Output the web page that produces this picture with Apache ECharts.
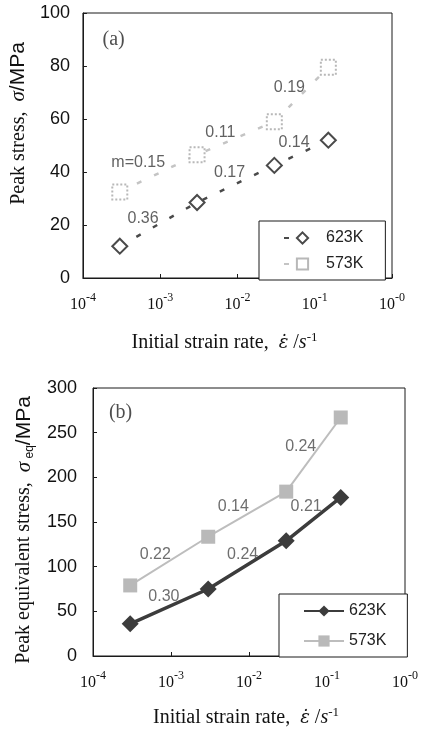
<!DOCTYPE html>
<html style="height: 100%">
<head>
<meta charset="utf-8">
</head>
<body style="height: 100%; margin: 0; background: #fff">
<div id="container" style="width: 421px; height: 732px"></div>
<script type="text/javascript" src="https://cdn.jsdelivr.net/npm/echarts@6/dist/echarts.min.js"></script>
<script type="text/javascript">
// initial strain rate (s^-1), same for every series
var rates = [3e-4, 3e-3, 3e-2, 1.5e-1];

// (a) peak stress, MPa
var peak623 = [12, 28.5, 42.5, 52];
var peak573 = [32.5, 46.5, 59, 79.5];

// (b) peak equivalent stress, MPa
var eq623 = [36, 75, 129, 177.5];
var eq573 = [79, 133.5, 184, 267];

// strain-rate sensitivity labels and where they sit (data coords)
var mTextA = ['m=0.15', '0.11', '0.19', '0.36', '0.17', '0.14'];
var mRateA = [5.2e-4, 6.0e-3, 4.7e-2, 6.0e-4, 7.9e-3, 5.4e-2];
var mStressA = [43.4, 55, 72, 22.6, 39.6, 51];

var mTextB = ['0.24', '0.14', '0.21', '0.22', '0.24', '0.30'];
var mRateB = [4.6e-2, 6.3e-3, 5.4e-2, 6.3e-4, 8.3e-3, 8.1e-4];
var mStressB = [234, 167, 167, 114, 114, 66];

var SERIF = 'Liberation Serif';
var SANS = 'Liberation Sans';

function pairs(xs, ys) {
    return xs.map(function (x, i) { return [x, ys[i]]; });
}
function notes(texts, xs, ys) {
    return texts.map(function (t, i) { return { name: t, value: [xs[i], ys[i]] }; });
}

var dom = document.getElementById('container');
var myChart = echarts.init(dom, null, { renderer: 'canvas' });

var xAxisBase = function (grid, nameGap, namePad) {
    return {
        type: 'log',
        logBase: 10,
        gridIndex: grid,
        min: 1e-4,
        max: 1,
        axisLine: { show: true, lineStyle: { color: '#1a1a1a', width: 1 } },
        axisTick: { show: true, inside: true, length: 4, lineStyle: { color: '#1a1a1a' } },
        splitLine: { show: false },
        axisLabel: {
            margin: 14,
            color: '#111',
            formatter: function (v) {
                var e = Math.round(Math.log(v) / Math.LN10);
                return '{b|10}{s|' + (e === 0 ? '-0' : e) + '}';
            },
            rich: {
                b: { fontFamily: SERIF, fontSize: 16, lineHeight: 21, verticalAlign: 'bottom', color: '#111' },
                s: { fontFamily: SERIF, fontSize: 12, lineHeight: 12, verticalAlign: 'top', color: '#111' }
            }
        },
        name: '{t|Initial strain rate,  }{e|\u03b5\u0307}{t| /}{i|s}{p|-1}',
        nameLocation: 'middle',
        nameGap: nameGap,
        nameTextStyle: {
            padding: namePad,
            rich: {
                t: { fontFamily: SERIF, fontSize: 20, lineHeight: 24, color: '#111' },
                e: { fontFamily: 'DejaVu Serif', fontSize: 18, fontStyle: 'italic', lineHeight: 24, color: '#111' },
                i: { fontFamily: SERIF, fontSize: 20, fontStyle: 'italic', lineHeight: 24, color: '#111' },
                p: { fontFamily: SERIF, fontSize: 13, lineHeight: 13, verticalAlign: 'top', color: '#111' }
            }
        }
    };
};

var yAxisBase = function (grid, max, interval, name, nameGap, namePad, margin) {
    return {
        type: 'value',
        gridIndex: grid,
        min: 0,
        max: max,
        interval: interval,
        axisLine: { show: true, lineStyle: { color: '#1a1a1a', width: 1 } },
        axisTick: { show: true, inside: true, length: 4, lineStyle: { color: '#1a1a1a' } },
        splitLine: { show: false },
        axisLabel: { margin: margin, fontFamily: SANS, fontSize: 18, color: '#111' },
        name: name,
        nameLocation: 'middle',
        nameGap: nameGap,
        nameRotate: 90,
        nameTextStyle: {
            padding: namePad,
            rich: {
                t: { fontFamily: SERIF, fontSize: 20, lineHeight: 24, color: '#111' },
                g: { fontFamily: SERIF, fontSize: 21, fontStyle: 'italic', lineHeight: 24, color: '#111' },
                q: { fontFamily: SANS, fontSize: 12, lineHeight: 12, verticalAlign: 'bottom', color: '#111' },
                u: { fontFamily: SANS, fontSize: 21, lineHeight: 24, color: '#111' }
            }
        }
    };
};

var noteSeries = function (grid, data, color, font, size) {
    return {
        type: 'scatter',
        xAxisIndex: grid,
        yAxisIndex: grid,
        data: data,
        symbolSize: 0,
        silent: true,
        z: 5,
        label: {
            show: true,
            position: 'inside',
            formatter: '{b}',
            fontFamily: font,
            fontSize: size,
            color: color
        }
    };
};

option = {
    backgroundColor: '#fff',
    animation: false,
    grid: [
        { left: 79, right: 29, top: 13, height: 265, show: true, borderColor: '#1a1a1a', borderWidth: 1, backgroundColor: 'transparent' },
        { left: 93, right: 14, top: 388, height: 268, show: true, borderColor: '#1a1a1a', borderWidth: 1, backgroundColor: 'transparent' }
    ],
    xAxis: [
        xAxisBase(0, 53, [0, 26, 0, 0]),
        xAxisBase(1, 50, [0, 6, 0, 0])
    ],
    yAxis: [
        yAxisBase(0, 100, 20, '{t|Peak stress,  }{g|\u03c3}{u|/MPa}', 46, [0, 0, 0, 44], 13),
        yAxisBase(1, 300, 50, '{t|Peak equivalent stress,  }{g|\u03c3}{q| eq}{u|/MPa}', 57, [0, 16, 0, 0], 16)
    ],
    legend: [
        {
            left: 259, top: 221,
            orient: 'vertical',
            data: ['a:623K', 'a:573K'],
            padding: [9, 22, 8, 24],
            itemWidth: 37, itemHeight: 14, itemGap: 10,
            borderColor: '#1a1a1a', borderWidth: 1,
            backgroundColor: '#fff',
            selectedMode: false,
            formatter: function (n) { return n.slice(2); },
            textStyle: { fontFamily: SANS, fontSize: 16, color: '#222' }
        },
        {
            left: 279, top: 594,
            orient: 'vertical',
            data: ['b:623K', 'b:573K'],
            padding: [9, 21, 8, 24],
            itemWidth: 40, itemHeight: 14, itemGap: 14,
            borderColor: '#1a1a1a', borderWidth: 1,
            backgroundColor: '#fff',
            selectedMode: false,
            formatter: function (n) { return n.slice(2); },
            textStyle: { fontFamily: SANS, fontSize: 16, color: '#222' }
        }
    ],
    series: [
        {
            name: 'a:623K',
            type: 'line',
            xAxisIndex: 0, yAxisIndex: 0,
            data: pairs(rates, peak623),
            symbol: 'emptyDiamond',
            symbolSize: 15,
            lineStyle: { color: '#4a4a4a', width: 2.5, type: [5, 14] },
            itemStyle: { color: '#4a4a4a', borderWidth: 1.3 }
        },
        {
            name: 'a:573K',
            type: 'line',
            xAxisIndex: 0, yAxisIndex: 0,
            data: pairs(rates, peak573),
            symbol: 'emptyRect',
            symbolSize: 15,
            lineStyle: { color: '#c4c4c4', width: 2.5, type: [5, 14] },
            itemStyle: { color: '#b8b8b8', borderWidth: 1.2, borderType: 'dotted' }
        },
        {
            name: 'b:623K',
            type: 'line',
            xAxisIndex: 1, yAxisIndex: 1,
            data: pairs(rates, eq623),
            symbol: 'diamond',
            symbolSize: 17,
            lineStyle: { color: '#3c3c3c', width: 3.5 },
            itemStyle: { color: '#3c3c3c' }
        },
        {
            name: 'b:573K',
            type: 'line',
            xAxisIndex: 1, yAxisIndex: 1,
            data: pairs(rates, eq573),
            symbol: 'rect',
            symbolSize: 14,
            lineStyle: { color: '#bdbdbd', width: 2 },
            itemStyle: { color: '#b9b9b9' }
        },
        noteSeries(0, notes(mTextA, mRateA, mStressA), '#3a3a3a', SANS, 16),
        noteSeries(0, [{ name: '(a)', value: [2.5e-4, 89.8] }], '#222', SERIF, 20),
        noteSeries(1, notes(mTextB, mRateB, mStressB), '#4a4a4a', SANS, 16),
        noteSeries(1, [{ name: '(b)', value: [2.26e-4, 272] }], '#222', SERIF, 20)
    ]
};

if (option && typeof option === 'object') {
    myChart.setOption(option, true);
}
</script>
</body>
</html>
